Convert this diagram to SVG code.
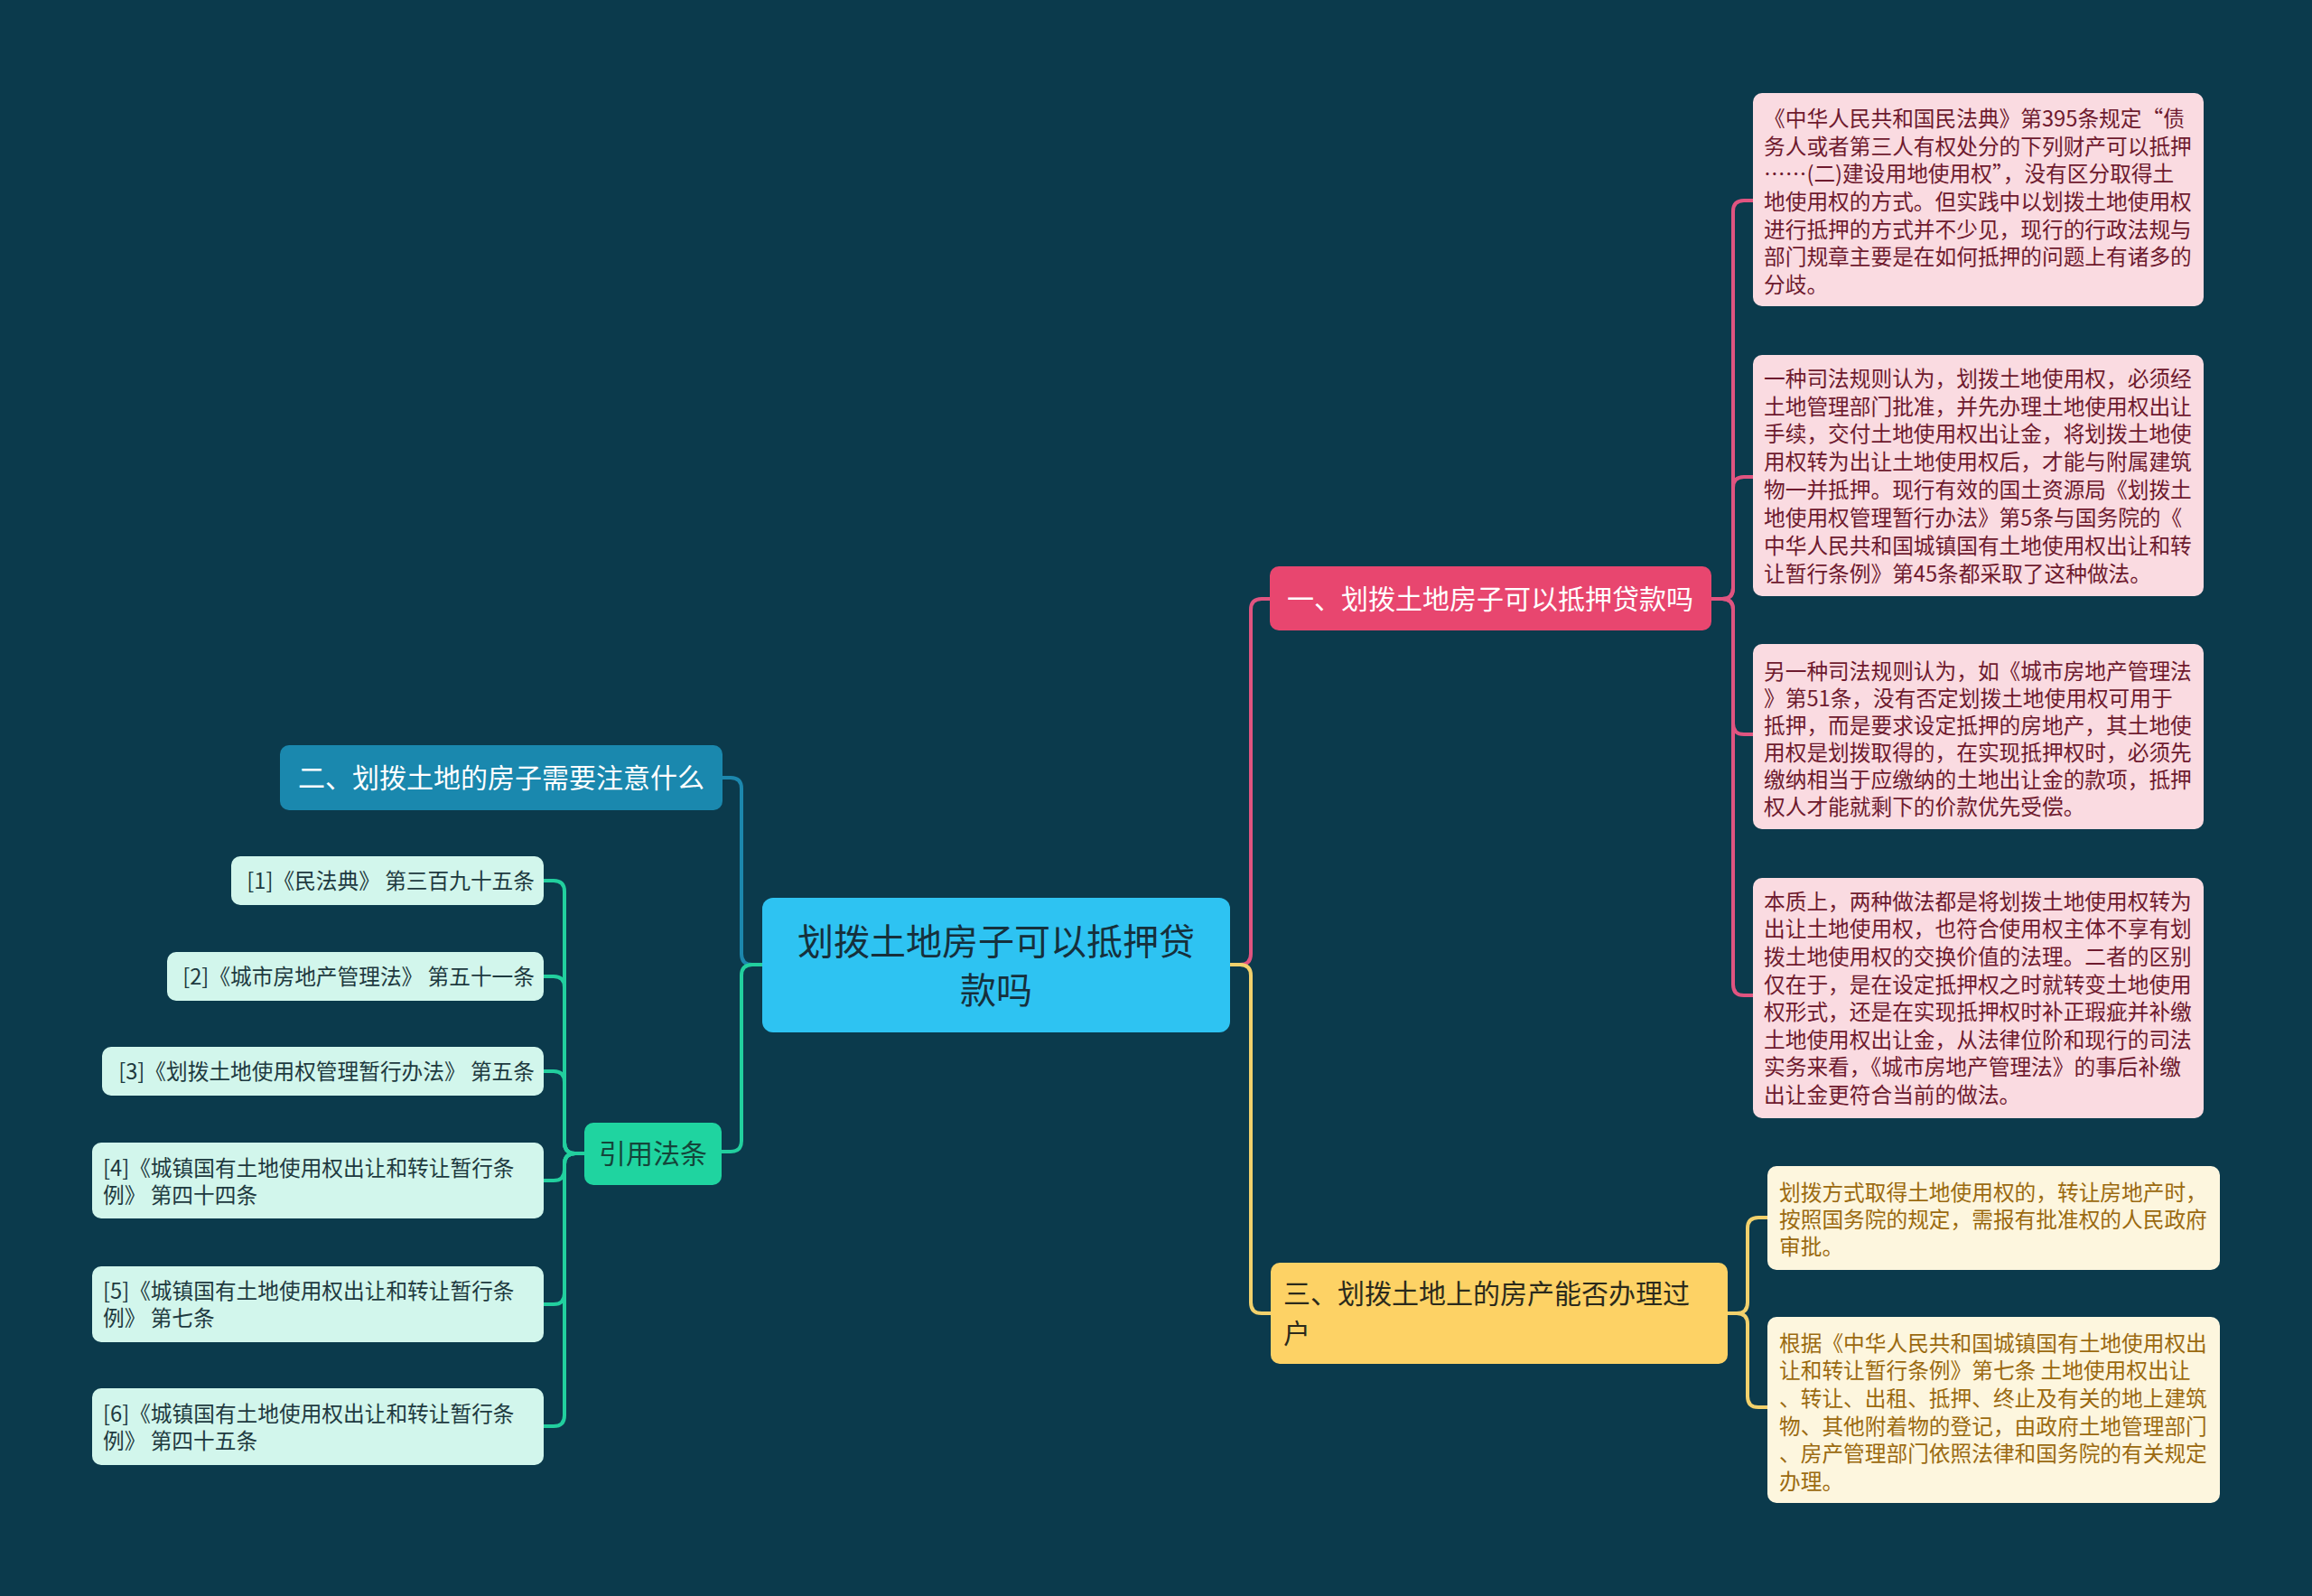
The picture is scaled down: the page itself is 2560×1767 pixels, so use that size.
<svg xmlns="http://www.w3.org/2000/svg" width="2560" height="1767" viewBox="0 0 2560 1767">
<style>
.t{font-family:"Noto Sans CJK SC","Microsoft YaHei","Noto Sans",sans-serif;}
.c{fill:none;stroke-width:4;stroke-linecap:round;stroke-linejoin:round;}
.pk{stroke:#e05480;}
.yl{stroke:#f2d16c;}
.bl{stroke:#1c87ad;}
.gr{stroke:#22cf9e;}
.pbox{fill:#fadbe1;}
.ptxt{fill:#6e1a2e;font-size:23.7px;}
.ybox{fill:#fdf6de;}
.ytxt{fill:#9b6a10;font-size:23.7px;}
.mbox{fill:#d2f6ec;}
.mtxt{fill:#1e3a40;font-size:23.7px;}
</style>
<rect x="0" y="0" width="2560" height="1767" fill="#0b3a4c"/>

<g id="connectors">
  <path class="c pk" d="M1362,1068 H1373 Q1385,1068 1385,1056 V675 Q1385,663 1397,663 H1406"/>
  <path class="c yl" d="M1362,1068 H1373 Q1385,1068 1385,1080 V1442 Q1385,1454 1397,1454 H1407"/>
  <path class="c bl" d="M844,1068 H833 Q821,1068 821,1056 V873 Q821,861 809,861 H800"/>
  <path class="c gr" d="M844,1068 H833 Q821,1068 821,1080 V1263 Q821,1275 809,1275 H799"/>

  <path class="c pk" d="M1895,663 H1907 Q1919,663 1919,651 V234 Q1919,222 1931,222 H1941"/>
  <path class="c pk" d="M1895,663 H1907 Q1919,663 1919,651 V540 Q1919,528 1931,528 H1941"/>
  <path class="c pk" d="M1895,663 H1907 Q1919,663 1919,675 V801 Q1919,813 1931,813 H1941"/>
  <path class="c pk" d="M1895,663 H1907 Q1919,663 1919,675 V1090 Q1919,1102 1931,1102 H1941"/>

  <path class="c yl" d="M1913,1454 H1923 Q1935,1454 1935,1442 V1360 Q1935,1348 1947,1348 H1957"/>
  <path class="c yl" d="M1913,1454 H1923 Q1935,1454 1935,1466 V1546 Q1935,1558 1947,1558 H1957"/>

  <path class="c gr" d="M647,1277 H637 Q625,1277 625,1265 V987 Q625,975 613,975 H602"/>
  <path class="c gr" d="M647,1277 H637 Q625,1277 625,1265 V1093 Q625,1081 613,1081 H602"/>
  <path class="c gr" d="M647,1277 H637 Q625,1277 625,1265 V1198 Q625,1186 613,1186 H602"/>
  <path class="c gr" d="M647,1277 H637 Q625,1277 625,1289 V1295 Q625,1307 613,1307 H602"/>
  <path class="c gr" d="M647,1277 H637 Q625,1277 625,1289 V1432 Q625,1444 613,1444 H602"/>
  <path class="c gr" d="M647,1277 H637 Q625,1277 625,1289 V1567 Q625,1579 613,1579 H602"/>
</g>

<g id="root">
  <rect x="844" y="994" width="518" height="149" rx="12" fill="#2ec3f2"/>
  <text class="t" x="1103" y="1057" font-size="40" fill="#16303c" text-anchor="middle">划拨土地房子可以抵押贷</text>
  <text class="t" x="1103" y="1111" font-size="40" fill="#16303c" text-anchor="middle">款吗</text>
</g>

<g id="n1">
  <rect x="1406" y="627" width="489" height="71" rx="10" fill="#e8466f"/>
  <text class="t" x="1650" y="674" font-size="30" fill="#ffffff" text-anchor="middle">一、划拨土地房子可以抵押贷款吗</text>
</g>

<g id="n1c1">
  <rect class="pbox" x="1941" y="103" width="499" height="236" rx="10"/>
  <text class="t ptxt">
    <tspan x="1953" y="140">《中华人民共和国民法典》第395条规定“债</tspan>
    <tspan x="1953" y="171">务人或者第三人有权处分的下列财产可以抵押</tspan>
    <tspan x="1953" y="201">……(二)建设用地使用权”，没有区分取得土</tspan>
    <tspan x="1953" y="232">地使用权的方式。但实践中以划拨土地使用权</tspan>
    <tspan x="1953" y="263">进行抵押的方式并不少见，现行的行政法规与</tspan>
    <tspan x="1953" y="293">部门规章主要是在如何抵押的问题上有诸多的</tspan>
    <tspan x="1953" y="324">分歧。</tspan>
  </text>
</g>

<g id="n1c2">
  <rect class="pbox" x="1941" y="393" width="499" height="267" rx="10"/>
  <text class="t ptxt">
    <tspan x="1953" y="428">一种司法规则认为，划拨土地使用权，必须经</tspan>
    <tspan x="1953" y="459">土地管理部门批准，并先办理土地使用权出让</tspan>
    <tspan x="1953" y="489">手续，交付土地使用权出让金，将划拨土地使</tspan>
    <tspan x="1953" y="520">用权转为出让土地使用权后，才能与附属建筑</tspan>
    <tspan x="1953" y="551">物一并抵押。现行有效的国土资源局《划拨土</tspan>
    <tspan x="1953" y="582">地使用权管理暂行办法》第5条与国务院的《</tspan>
    <tspan x="1953" y="613">中华人民共和国城镇国有土地使用权出让和转</tspan>
    <tspan x="1953" y="644">让暂行条例》第45条都采取了这种做法。</tspan>
  </text>
</g>

<g id="n1c3">
  <rect class="pbox" x="1941" y="713" width="499" height="205" rx="10"/>
  <text class="t ptxt">
    <tspan x="1953" y="752">另一种司法规则认为，如《城市房地产管理法</tspan>
    <tspan x="1953" y="782">》第51条，没有否定划拨土地使用权可用于</tspan>
    <tspan x="1953" y="812">抵押，而是要求设定抵押的房地产，其土地使</tspan>
    <tspan x="1953" y="842">用权是划拨取得的，在实现抵押权时，必须先</tspan>
    <tspan x="1953" y="872">缴纳相当于应缴纳的土地出让金的款项，抵押</tspan>
    <tspan x="1953" y="902">权人才能就剩下的价款优先受偿。</tspan>
  </text>
</g>

<g id="n1c4">
  <rect class="pbox" x="1941" y="972" width="499" height="266" rx="10"/>
  <text class="t ptxt">
    <tspan x="1953" y="1007">本质上，两种做法都是将划拨土地使用权转为</tspan>
    <tspan x="1953" y="1037">出让土地使用权，也符合使用权主体不享有划</tspan>
    <tspan x="1953" y="1068">拨土地使用权的交换价值的法理。二者的区别</tspan>
    <tspan x="1953" y="1099">仅在于，是在设定抵押权之时就转变土地使用</tspan>
    <tspan x="1953" y="1129">权形式，还是在实现抵押权时补正瑕疵并补缴</tspan>
    <tspan x="1953" y="1160">土地使用权出让金，从法律位阶和现行的司法</tspan>
    <tspan x="1953" y="1190">实务来看，《城市房地产管理法》的事后补缴</tspan>
    <tspan x="1953" y="1221">出让金更符合当前的做法。</tspan>
  </text>
</g>

<g id="n3">
  <rect x="1407" y="1398" width="506" height="112" rx="10" fill="#fdd265"/>
  <text class="t" font-size="30" fill="#2b2a1c">
    <tspan x="1421" y="1443">三、划拨土地上的房产能否办理过</tspan>
    <tspan x="1421" y="1487">户</tspan>
  </text>
</g>

<g id="n3c1">
  <rect class="ybox" x="1957" y="1291" width="501" height="115" rx="10"/>
  <text class="t ytxt">
    <tspan x="1970" y="1329">划拨方式取得土地使用权的，转让房地产时，</tspan>
    <tspan x="1970" y="1359">按照国务院的规定，需报有批准权的人民政府</tspan>
    <tspan x="1970" y="1389">审批。</tspan>
  </text>
</g>

<g id="n3c2">
  <rect class="ybox" x="1957" y="1458" width="501" height="206" rx="10"/>
  <text class="t ytxt">
    <tspan x="1970" y="1496">根据《中华人民共和国城镇国有土地使用权出</tspan>
    <tspan x="1970" y="1526">让和转让暂行条例》第七条 土地使用权出让</tspan>
    <tspan x="1970" y="1557">、转让、出租、抵押、终止及有关的地上建筑</tspan>
    <tspan x="1970" y="1588">物、其他附着物的登记，由政府土地管理部门</tspan>
    <tspan x="1970" y="1618">、房产管理部门依照法律和国务院的有关规定</tspan>
    <tspan x="1970" y="1649">办理。</tspan>
  </text>
</g>

<g id="n2">
  <rect x="310" y="825" width="490" height="72" rx="10" fill="#1a88ae"/>
  <text class="t" x="555" y="872" font-size="30" fill="#ffffff" text-anchor="middle">二、划拨土地的房子需要注意什么</text>
</g>

<g id="n4">
  <rect x="647" y="1243" width="152" height="69" rx="10" fill="#1fd4a0"/>
  <text class="t" x="723" y="1288" font-size="30" fill="#14453a" text-anchor="middle">引用法条</text>
</g>

<g id="r1">
  <rect class="mbox" x="256" y="948" width="346" height="54" rx="10"/>
  <text class="t mtxt" x="592" y="984" text-anchor="end">[1]《民法典》 第三百九十五条</text>
</g>
<g id="r2">
  <rect class="mbox" x="185" y="1054" width="417" height="54" rx="10"/>
  <text class="t mtxt" x="592" y="1090" text-anchor="end">[2]《城市房地产管理法》 第五十一条</text>
</g>
<g id="r3">
  <rect class="mbox" x="113" y="1159" width="489" height="54" rx="10"/>
  <text class="t mtxt" x="592" y="1195" text-anchor="end">[3]《划拨土地使用权管理暂行办法》 第五条</text>
</g>
<g id="r4">
  <rect class="mbox" x="102" y="1265" width="500" height="84" rx="10"/>
  <text class="t mtxt">
    <tspan x="114" y="1302">[4]《城镇国有土地使用权出让和转让暂行条</tspan>
    <tspan x="114" y="1332">例》 第四十四条</tspan>
  </text>
</g>
<g id="r5">
  <rect class="mbox" x="102" y="1402" width="500" height="84" rx="10"/>
  <text class="t mtxt">
    <tspan x="114" y="1438">[5]《城镇国有土地使用权出让和转让暂行条</tspan>
    <tspan x="114" y="1468">例》 第七条</tspan>
  </text>
</g>
<g id="r6">
  <rect class="mbox" x="102" y="1537" width="500" height="85" rx="10"/>
  <text class="t mtxt">
    <tspan x="114" y="1574">[6]《城镇国有土地使用权出让和转让暂行条</tspan>
    <tspan x="114" y="1604">例》 第四十五条</tspan>
  </text>
</g>
</svg>
